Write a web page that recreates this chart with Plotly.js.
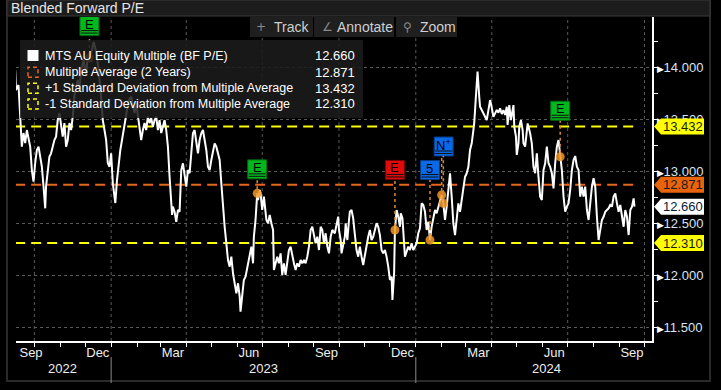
<!DOCTYPE html>
<html><head><meta charset="utf-8">
<script src="https://cdn.plot.ly/plotly-3.0.1.min.js"></script>
<style>html,body{margin:0;padding:0;background:#000;}#chart{width:721px;height:390px;}</style>
</head><body><div id="chart"></div>
<script>
const dates = [
"2022-09-08","2022-09-09","2022-09-12","2022-09-14","2022-09-16","2022-09-18","2022-09-20","2022-09-22","2022-09-24","2022-09-26","2022-09-28","2022-09-30",
"2022-10-02","2022-10-04","2022-10-06","2022-10-08","2022-10-10","2022-10-12","2022-10-14","2022-10-15","2022-10-17","2022-10-19","2022-10-21","2022-10-23","2022-10-25","2022-10-27","2022-10-29","2022-10-31",
"2022-11-02","2022-11-04","2022-11-06","2022-11-08","2022-11-10","2022-11-12","2022-11-14","2022-11-16","2022-11-18","2022-11-22","2022-11-24","2022-11-26","2022-11-29",
"2022-12-02","2022-12-04","2022-12-06","2022-12-09","2022-12-11","2022-12-13","2022-12-16","2022-12-20","2022-12-22","2022-12-24","2022-12-26","2022-12-28","2022-12-30",
"2023-01-01","2023-01-03","2023-01-05","2023-01-06","2023-01-08","2023-01-10","2023-01-12","2023-01-14","2023-01-16","2023-01-18","2023-01-20","2023-01-22","2023-01-25","2023-01-29","2023-01-31",
"2023-02-02","2023-02-04","2023-02-06","2023-02-08","2023-02-10","2023-02-12","2023-02-14","2023-02-16","2023-02-18","2023-02-20","2023-02-22","2023-02-24","2023-02-26","2023-02-28",
"2023-03-02","2023-03-04","2023-03-06","2023-03-08","2023-03-10","2023-03-12","2023-03-14","2023-03-15","2023-03-16","2023-03-18","2023-03-20","2023-03-22","2023-03-24","2023-03-26","2023-03-28","2023-03-30",
"2023-04-01","2023-04-03","2023-04-05","2023-04-07","2023-04-09","2023-04-11","2023-04-13","2023-04-15","2023-04-17","2023-04-19","2023-04-21","2023-04-23","2023-04-25","2023-04-27","2023-04-29",
"2023-05-01","2023-05-03","2023-05-05","2023-05-07","2023-05-09","2023-05-11","2023-05-13","2023-05-15","2023-05-17","2023-05-19","2023-05-21","2023-05-23","2023-05-25","2023-05-27","2023-05-29","2023-05-31",
"2023-06-02","2023-06-04","2023-06-05","2023-06-07","2023-06-09","2023-06-11","2023-06-14","2023-06-16","2023-06-18","2023-06-20","2023-06-21","2023-06-23","2023-06-25","2023-06-26","2023-06-28","2023-06-29",
"2023-07-01","2023-07-03","2023-07-04","2023-07-06","2023-07-08","2023-07-10","2023-07-12","2023-07-14","2023-07-15","2023-07-17","2023-07-19","2023-07-21","2023-07-23","2023-07-25","2023-07-27","2023-07-29","2023-07-31",
"2023-08-02","2023-08-04","2023-08-06","2023-08-08","2023-08-10","2023-08-12","2023-08-14","2023-08-16","2023-08-18","2023-08-20","2023-08-22","2023-08-24","2023-08-26","2023-08-28","2023-08-30",
"2023-09-01","2023-09-03","2023-09-05","2023-09-07","2023-09-09","2023-09-11","2023-09-13","2023-09-15","2023-09-17","2023-09-19","2023-09-21","2023-09-23","2023-09-26","2023-09-28","2023-09-30",
"2023-10-01","2023-10-03","2023-10-04","2023-10-06","2023-10-08","2023-10-09","2023-10-11","2023-10-13","2023-10-14","2023-10-16","2023-10-18","2023-10-19","2023-10-21","2023-10-22","2023-10-24","2023-10-26","2023-10-28","2023-10-30","2023-10-31",
"2023-11-02","2023-11-03","2023-11-05","2023-11-07","2023-11-09","2023-11-11","2023-11-13","2023-11-15","2023-11-17","2023-11-19","2023-11-21","2023-11-23","2023-11-25","2023-11-27","2023-11-29",
"2023-12-01","2023-12-03","2023-12-04","2023-12-06","2023-12-07","2023-12-09","2023-12-11","2023-12-13","2023-12-14","2023-12-16","2023-12-17","2023-12-19","2023-12-21","2023-12-23","2023-12-25","2023-12-27","2023-12-29","2023-12-31",
"2024-01-02","2024-01-04","2024-01-06","2024-01-08","2024-01-10","2024-01-12","2024-01-14","2024-01-16","2024-01-18","2024-01-20","2024-01-22","2024-01-24","2024-01-26","2024-01-28","2024-01-30",
"2024-02-01","2024-02-03","2024-02-05","2024-02-07","2024-02-09","2024-02-11","2024-02-13","2024-02-15","2024-02-17","2024-02-19","2024-02-21","2024-02-23","2024-02-25","2024-02-27","2024-02-29",
"2024-03-02","2024-03-04","2024-03-06","2024-03-08","2024-03-10","2024-03-11","2024-03-13","2024-03-14","2024-03-15","2024-03-17","2024-03-18","2024-03-20","2024-03-22","2024-03-24","2024-03-26","2024-03-28","2024-03-30","2024-03-31",
"2024-04-03","2024-04-05","2024-04-07","2024-04-09","2024-04-11","2024-04-13","2024-04-15","2024-04-17","2024-04-19","2024-04-20","2024-04-22","2024-04-24","2024-04-25","2024-04-27","2024-04-28","2024-04-30",
"2024-05-01","2024-05-03","2024-05-04","2024-05-06","2024-05-08","2024-05-09","2024-05-11","2024-05-12","2024-05-14","2024-05-16","2024-05-17","2024-05-19","2024-05-21","2024-05-23","2024-05-25","2024-05-27","2024-05-29","2024-05-31",
"2024-06-01","2024-06-02","2024-06-04","2024-06-06","2024-06-08","2024-06-10","2024-06-12","2024-06-14","2024-06-16","2024-06-18","2024-06-20","2024-06-22","2024-06-24","2024-06-26","2024-06-28","2024-06-30",
"2024-07-02","2024-07-04","2024-07-06","2024-07-08","2024-07-10","2024-07-12","2024-07-14","2024-07-16","2024-07-18","2024-07-20","2024-07-22","2024-07-24","2024-07-26","2024-07-28","2024-07-30",
"2024-08-01","2024-08-03","2024-08-05","2024-08-07","2024-08-09","2024-08-11","2024-08-13","2024-08-15","2024-08-17","2024-08-19","2024-08-21","2024-08-23","2024-08-25","2024-08-27","2024-08-29","2024-08-31",
"2024-09-02","2024-09-04","2024-09-06","2024-09-08","2024-09-10","2024-09-12","2024-09-14","2024-09-16","2024-09-18","2024-09-19"
];
const pe = [
13.974,13.782,13.830,13.512,13.237,13.368,13.272,13.397,13.301,13.237,13.012,12.900,
13.080,13.205,13.237,13.140,13.044,12.852,12.644,12.852,12.981,13.140,13.173,13.237,13.301,13.333,13.493,13.560,
13.429,13.333,13.464,13.237,13.301,13.464,13.397,13.525,13.734,13.878,13.782,13.974,14.070,
13.926,14.118,14.089,14.166,14.243,14.185,14.041,13.717,13.493,13.397,13.301,13.080,13.044,
13.173,12.885,12.756,12.695,12.916,13.080,13.205,13.301,13.397,13.464,13.560,13.685,13.717,13.560,13.657,
13.525,13.397,13.301,13.397,13.464,13.397,13.525,13.464,13.512,13.429,13.493,13.525,13.397,13.493,
13.368,13.429,13.493,13.397,13.237,12.948,12.695,12.580,12.660,12.611,12.515,12.628,12.611,13.012,13.077,12.948,
12.852,13.012,12.981,13.173,13.365,13.397,13.301,13.173,13.301,13.365,13.397,13.301,13.205,13.044,13.012,
13.109,13.205,13.269,13.237,13.173,13.109,12.885,12.628,12.467,12.307,12.147,12.083,12.179,12.019,11.923,11.827,
11.923,11.794,11.650,11.827,11.955,11.987,12.115,12.179,12.275,12.115,12.371,12.532,12.788,12.724,12.820,12.788,
12.628,12.756,12.660,12.532,12.500,12.580,12.500,12.436,12.051,12.115,12.179,12.115,12.211,12.003,12.115,12.003,12.115,
12.243,12.275,12.179,12.115,12.051,12.115,12.083,12.147,12.115,12.147,12.115,12.179,12.275,12.436,12.467,
12.371,12.307,12.371,12.243,12.467,12.436,12.307,12.404,12.275,12.211,12.371,12.436,12.404,12.500,12.564,
12.436,12.339,12.211,12.307,12.371,12.500,12.339,12.532,12.612,12.628,12.548,12.467,12.339,12.243,12.179,12.275,12.179,12.099,12.147,
12.243,12.275,12.371,12.436,12.339,12.371,12.436,12.500,12.467,12.387,12.243,12.211,12.243,12.179,12.083,
11.955,11.987,11.763,12.019,12.436,12.628,12.564,12.467,12.596,12.548,12.404,12.179,12.227,12.275,12.243,12.307,12.243,12.275,
12.307,12.404,12.452,12.692,12.676,12.611,12.436,12.515,12.339,12.467,12.563,12.628,12.596,12.660,12.724,
12.772,12.692,12.532,12.660,12.820,12.981,12.756,12.500,12.387,12.563,12.692,12.611,12.724,12.820,12.948,
12.981,13.044,13.205,13.269,13.397,13.464,13.717,13.878,13.958,13.717,13.621,13.589,13.557,13.525,13.493,13.589,13.685,13.653,
13.525,13.557,13.589,13.563,13.606,13.551,13.589,13.541,13.621,13.445,13.637,13.493,13.541,13.637,13.429,13.333,
13.157,13.269,13.429,13.493,13.397,13.269,13.237,13.301,13.461,13.397,13.365,13.269,13.044,12.981,13.173,12.948,12.756,12.724,
12.948,13.012,13.077,13.237,13.077,13.044,12.981,12.836,13.077,13.237,13.301,13.140,13.012,12.756,12.611,12.660,
12.692,12.820,13.012,13.109,13.147,13.044,13.012,12.756,12.852,12.756,12.852,12.628,12.532,12.692,12.852,
12.933,12.852,12.563,12.339,12.436,12.532,12.563,12.611,12.628,12.644,12.676,12.660,12.756,12.788,12.692,12.611,
12.676,12.563,12.467,12.628,12.563,12.387,12.628,12.660,12.740,12.660
];
const avgValue = 12.871;
const sdUpValue = 13.432;
const sdDownValue = 12.310;
const lastValue = 12.660;

const legendNames = ["MTS AU Equity Multiple (BF P/E)","Multiple Average (2 Years)","+1 Standard Deviation from Multiple Average","-1 Standard Deviation from Multiple Average"];
const legendValues = ["12.660","12.871","13.432","12.310"];

const yTickVals = [11.5,12,12.5,13,13.5,14];
const yTickText = ["11.500","12.000","12.500","13.000","13.500","14.000"];
const monthTickDates = ["2022-09-27","2022-12-16","2023-03-16","2023-06-15","2023-09-16","2023-12-16","2024-03-16","2024-06-15","2024-09-16"];
const monthTickText = ["Sep","Dec","Mar","Jun","Sep","Dec","Mar","Jun","Sep"];
const yearLabels = ["2022","2023","2024"];
const yearLabelDates = ["2022-11-04","2023-07-02","2024-06-05"];
const yearBoundaries = ["2023-01-01","2024-01-01"];
const gridDates = ["2022-10-01","2023-01-01","2023-04-01","2023-07-01","2023-10-01","2024-01-01","2024-04-01","2024-07-01","2024-10-01"];

const eventDates = ["2022-12-06","2023-06-25","2023-12-07","2024-01-18","2024-02-01","2024-02-03","2024-06-22"];
const eventLabels = ["E","E","E","5","N<sup>+</sup>","","E"];
const eventKinds = ["green","green","red","blue","blue","","green"];

// ---------- layout helpers (pixels) ----------
const L=16,R=652,T=17,B=341,W=R-L,H=B-T;
const fx=p=>(p-L)/W, fy=p=>(B-p)/H;
const FONT="'Liberation Sans',Arial,sans-serif";
const YELLOW="#ffff00", ORANGE="#e8661a";
const kindFill={green:"#00b81e",red:"#e00a0a",blue:"#0a6ae6"};
const kindDark={green:"#006a10",red:"#7a0000",blue:"#003a88"};
const eventBoxOffsetPx=[32,24,60,70,48.5,57,46];
const eventBoxShiftPx=[0,0,0,0,2,0,0];

const valueAt=d=>pe[dates.indexOf(d)];
const first=dates[0], last=dates[dates.length-1];

const traces=[
 {x:[first,last],y:[sdUpValue,sdUpValue],mode:'lines',line:{color:YELLOW,width:2,dash:'10px,6px'},hoverinfo:'skip'},
 {x:[first,last],y:[avgValue,avgValue],mode:'lines',line:{color:ORANGE,width:2,dash:'10px,6px'},hoverinfo:'skip'},
 {x:[first,last],y:[sdDownValue,sdDownValue],mode:'lines',line:{color:YELLOW,width:2,dash:'10px,6px'},hoverinfo:'skip'},
 {x:dates,y:pe,mode:'lines',line:{color:'#ffffff',width:2},hoverinfo:'skip'},
 {x:eventDates,y:eventDates.map(valueAt),mode:'markers',marker:{color:'rgba(240,150,40,0.85)',size:9,line:{width:0}},hoverinfo:'skip'}
];

const shapes=[];
const ann=[];
// outer frame + title bar
shapes.push({type:'rect',xref:'paper',yref:'paper',x0:fx(7),x1:fx(710),y0:fy(381),y1:fy(0),line:{color:'#2a2a2a',width:2},fillcolor:'rgba(0,0,0,0)',layer:'above'});
shapes.push({type:'rect',xref:'paper',yref:'paper',x0:fx(7),x1:fx(710),y0:fy(16),y1:fy(0),line:{color:'#3a3a3a',width:1},fillcolor:'#1c1c1c',layer:'above'});
ann.push({xref:'paper',yref:'paper',x:fx(9),y:fy(8.5),xanchor:'left',yanchor:'middle',showarrow:false,text:'Blended Forward P/E',font:{family:FONT,size:14,color:'#e6e6e6'}});
// vertical grid lines
gridDates.forEach(d=>shapes.push({type:'line',xref:'x',yref:'paper',x0:d,x1:d,y0:0,y1:1,line:{color:'#5a5a5a',width:1,dash:'dot'},layer:'below'}));
// year separators + labels
yearBoundaries.forEach(d=>shapes.push({type:'line',xref:'x',yref:'paper',x0:d,x1:d,y0:fy(383),y1:fy(357),line:{color:'#8a8a8a',width:1}}));
yearLabels.forEach((t,i)=>ann.push({xref:'x',yref:'paper',x:yearLabelDates[i],y:fy(368.5),yanchor:'middle',showarrow:false,text:t,font:{family:FONT,size:13,color:'#eeeeee'}}));
// events
eventDates.forEach((d,i)=>{
  const v=valueAt(d), off=eventBoxOffsetPx[i], dx=eventBoxShiftPx[i], k=eventKinds[i];
  shapes.push({type:'line',xref:'x',yref:'y',x0:d,x1:d,ysizemode:'pixel',yanchor:v,y0:4,y1:off-9.5,line:{color:'#d98a2a',width:1.5,dash:'dot'}});
  if(!eventLabels[i]) return;
  shapes.push({type:'rect',xref:'x',yref:'y',xsizemode:'pixel',xanchor:d,x0:dx-9.5,x1:dx+9.5,ysizemode:'pixel',yanchor:v,y0:off-9.5,y1:off+9.5,fillcolor:kindFill[k],line:{color:kindDark[k],width:1}});
  [2.5,5].forEach(s=>shapes.push({type:'line',xref:'x',yref:'y',xsizemode:'pixel',xanchor:d,x0:dx-8.5,x1:dx+8.5,ysizemode:'pixel',yanchor:v,y0:off-9.5+s,y1:off-9.5+s,line:{color:'#111',width:1}}));
  ann.push({xref:'x',yref:'y',x:d,y:v,xshift:dx,yshift:off+2,showarrow:false,text:eventLabels[i],font:{family:FONT,size:13,color:'#000'}});
});
// toolbar
[[250,313,'+','Track',261,291],[314,394,'∠','Annotate',327,365],[396,457,'⚲','Zoom',407,438]].forEach(b=>{
  shapes.push({type:'rect',xref:'paper',yref:'paper',x0:fx(b[0]),x1:fx(b[1]),y0:fy(37),y1:fy(17),fillcolor:'#1f1f1f',line:{width:0},layer:'above'});
  ann.push({xref:'paper',yref:'paper',x:fx(b[4]),y:fy(27),yanchor:'middle',showarrow:false,text:b[2],font:{family:'DejaVu Sans',size:12,color:'#8a8a8a'}});
  ann.push({xref:'paper',yref:'paper',x:fx(b[5]),y:fy(27),yanchor:'middle',showarrow:false,text:b[3],font:{family:FONT,size:14,color:'#d0d0d0'}});
});
// legend box
shapes.push({type:'rect',xref:'paper',yref:'paper',x0:fx(20),x1:fx(363),y0:fy(118),y1:fy(40),fillcolor:'rgba(28,28,28,0.86)',line:{width:0},layer:'above'});
const rowY=[56,72.3,88.3,104];
shapes.push({type:'rect',xref:'paper',yref:'paper',x0:fx(27.5),x1:fx(38.5),y0:fy(61),y1:fy(50),fillcolor:'#ffffff',line:{width:0},layer:'above'});
[[ORANGE,1],[YELLOW,2],[YELLOW,3]].forEach(s=>{
  const c=rowY[s[1]];
  shapes.push({type:'rect',xref:'paper',yref:'paper',x0:fx(28),x1:fx(38),y0:fy(c+5),y1:fy(c-5),fillcolor:'rgba(0,0,0,0)',line:{color:s[0],width:1.5,dash:'4px,3px'},layer:'above'});
});
legendNames.forEach((n,i)=>{
  ann.push({xref:'paper',yref:'paper',x:fx(43),y:fy(rowY[i]),xanchor:'left',yanchor:'middle',showarrow:false,text:n,font:{family:FONT,size:12.5,color:'#ffffff'}});
  ann.push({xref:'paper',yref:'paper',x:fx(357),y:fy(rowY[i]),xanchor:'right',yanchor:'middle',showarrow:false,text:legendValues[i],font:{family:FONT,size:13,color:'#ffffff'}});
});
// value tags on right axis
const tagVals=[sdUpValue,avgValue,lastValue,sdDownValue];
const tagText=[legendValues[2],legendValues[1],legendValues[0],legendValues[3]];
const tagFill=[YELLOW,'#e8640c','#ffffff',YELLOW];
const tagFont=['#1a1a1a','#1a1a1a','#0a1a3a','#1a1a1a'];
tagVals.forEach((v,i)=>{
  shapes.push({type:'path',xref:'paper',xsizemode:'pixel',xanchor:1,yref:'y',ysizemode:'pixel',yanchor:v,path:'M 2 0 L 9 8 L 52 8 L 52 -8 L 9 -8 Z',fillcolor:tagFill[i],line:{width:0},layer:'above'});
  ann.push({xref:'paper',yref:'y',x:1,y:v,xanchor:'left',yanchor:'middle',xshift:9,showarrow:false,text:tagText[i],font:{family:FONT,size:13,color:tagFont[i]}});
});

const layout={
  width:721,height:390,margin:{l:L,r:721-R,t:T,b:390-B},
  paper_bgcolor:'#000',plot_bgcolor:'#000',showlegend:false,hovermode:false,
  xaxis:{type:'date',range:['2022-09-09','2024-10-10'],showgrid:false,zeroline:false,showline:true,linecolor:'#ffffff',linewidth:1.5,
    tickmode:'array',tickvals:monthTickDates,ticktext:monthTickText,ticks:'',ticklabelstandoff:-1,tickfont:{family:FONT,size:13,color:'#eeeeee'},
    minor:{dtick:'M1',tick0:'2022-09-01',ticks:'outside',ticklen:4,tickcolor:'#ffffff',tickwidth:1,showgrid:false}},
  yaxis:{side:'right',range:[11.368,14.484],showgrid:true,gridcolor:'#5a5a5a',griddash:'dot',gridwidth:1,zeroline:false,
    showline:true,linecolor:'#ffffff',linewidth:2,tickmode:'array',tickvals:yTickVals,
    ticktext:yTickText.map(t=>"<span style='color:#ffffff;font-size:9px'>▶</span>"+t),ticks:'',ticklabelstandoff:0,
    tickfont:{family:FONT,size:13,color:'#d6e4f5'},
    minor:{dtick:0.25,tick0:11.5,ticks:'outside',ticklen:4,tickcolor:'#ffffff',tickwidth:1,showgrid:false}},
  shapes:shapes,annotations:ann
};
Plotly.newPlot('chart',traces,layout,{staticPlot:true,displayModeBar:false});
</script></body></html>
